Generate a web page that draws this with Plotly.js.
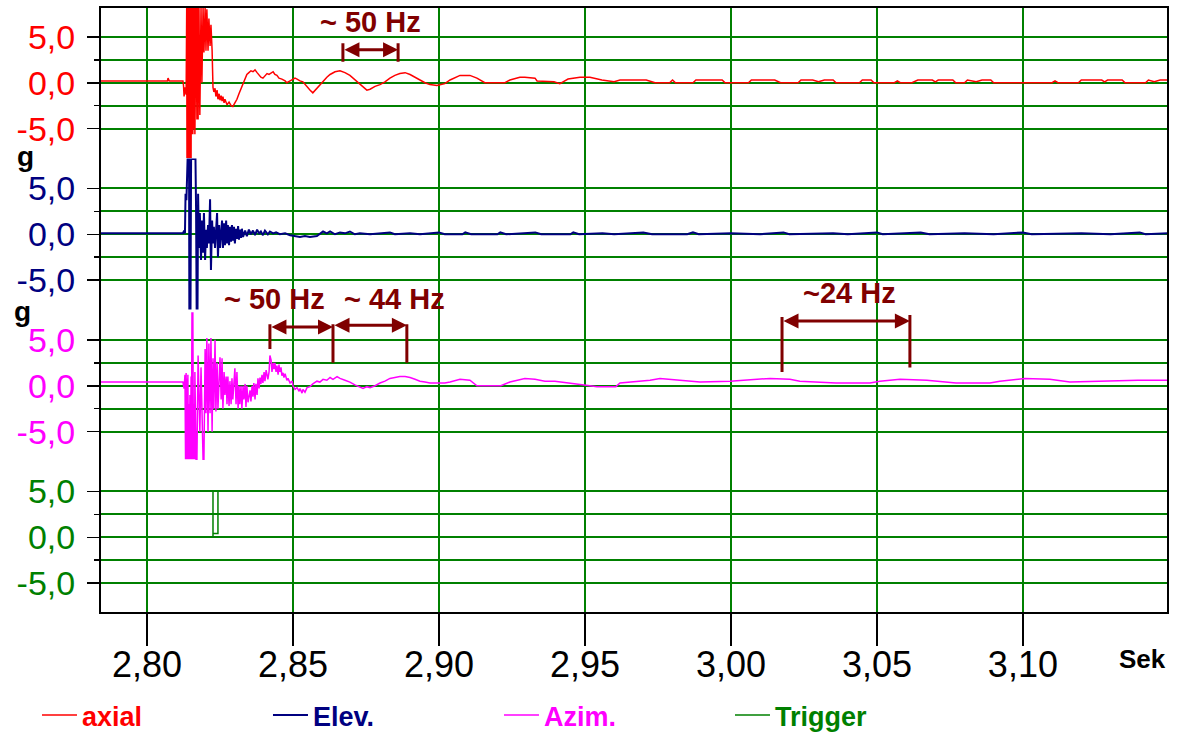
<!DOCTYPE html>
<html>
<head>
<meta charset="utf-8">
<script src="https://cdn.plot.ly/plotly-3.0.1.min.js"></script>
<style>html,body{margin:0;padding:0;background:#fff;}#chart{width:1177px;height:735px;}</style>
</head>
<body>
<div id="chart"></div>
<script>
// ---------- data ----------
const seriesNames = ['axial', 'Elev.', 'Azim.', 'Trigger'];
const seriesColors = ['#ff0000', '#000080', '#ff00ff', '#008000'];

const xTickVals = [2.80, 2.85, 2.90, 2.95, 3.00, 3.05, 3.10];
const xTickText = ['2,80', '2,85', '2,90', '2,95', '3,00', '3,05', '3,10'];
const yMajorVals = [5, 0, -5];
const yMajorText = ['5,0', '0,0', '-5,0'];
const yMinorVals = [2.5, -2.5];

const axialT = [2.7839,2.8010,2.8070,2.8072,2.8076,2.8123,2.8125,2.8127,2.8130,2.8134,2.8136,2.8137,2.8139,2.8140,2.8142,2.8144,2.8145,2.8147,2.8149,2.8151,2.8152,2.8154,2.8156,2.8157,2.8159,2.8161,2.8163,2.8164,2.8168,2.8171,2.8173,2.8175,2.8178,2.8181,2.8185,2.8188,2.8192,2.8195,2.8199,2.8202,2.8205,2.8209,2.8212,2.8216,2.8219,2.8223,2.8226,2.8229,2.8233,2.8236,2.8240,2.8243,2.8247,2.8250,2.8254,2.8257,2.8260,2.8264,2.8267,2.8274,2.8281,2.8288,2.8294,2.8301,2.8308,2.8315,2.8322,2.8329,2.8336,2.8342,2.8349,2.8356,2.8363,2.8370,2.8377,2.8384,2.8390,2.8397,2.8404,2.8411,2.8418,2.8425,2.8432,2.8438,2.8445,2.8452,2.8462,2.8473,2.8479,2.8490,2.8500,2.8507,2.8514,2.8524,2.8534,2.8541,2.8548,2.8558,2.8568,2.8582,2.8592,2.8603,2.8616,2.8627,2.8644,2.8661,2.8678,2.8695,2.8712,2.8729,2.8740,2.8753,2.8764,2.8781,2.8798,2.8815,2.8832,2.8849,2.8866,2.8884,2.8901,2.8918,2.8935,2.8952,2.8969,2.8993,2.9020,2.9038,2.9072,2.9106,2.9130,2.9147,2.9157,2.9226,2.9243,2.9277,2.9294,2.9329,2.9336,2.9394,2.9414,2.9425,2.9442,2.9483,2.9517,2.9558,2.9600,2.9620,2.9710,2.9740,2.9790,2.9800,2.9810,2.9870,2.9880,2.9970,2.9980,3.0060,3.0070,3.0150,3.0170,3.0230,3.0240,3.0280,3.0300,3.0320,3.0350,3.0360,3.0440,3.0450,3.0480,3.0490,3.0560,3.0570,3.0580,3.0620,3.0640,3.0690,3.0700,3.0710,3.0760,3.0770,3.0800,3.0810,3.0840,3.0860,3.0890,3.0900,3.1000,3.1100,3.1110,3.1120,3.1190,3.1200,3.1270,3.1280,3.1290,3.1340,3.1350,3.1420,3.1430,3.1450,3.1470,3.1497];
const axialV = [0.2,0.2,0.2,0.5,0.2,0.2,-0.3,-1.5,-0.5,-1.3,8.2,-8.2,8.2,-8.2,8.2,-8.2,8.2,-8.2,8.2,-8.2,8.2,-5.6,8.2,-5.6,8.2,-5.0,8.2,-5.6,8.2,-4.0,8.2,-4.0,8.2,-3.5,8.2,0.0,8.2,3.3,8.2,3.5,8.0,3.5,7.0,4.0,6.3,3.5,-0.5,-1.0,-0.6,-1.5,-0.8,-1.8,-1.2,-1.9,-1.4,-2.0,-1.5,-2.2,-1.8,-2.4,-2.1,-2.5,-2.6,-2.2,-1.8,-1.2,-0.6,-0.1,0.5,0.9,1.1,1.3,1.2,1.4,1.1,0.8,0.6,0.5,0.8,1.0,0.9,1.1,1.2,0.9,0.8,0.5,0.4,0.2,0.0,0.2,0.4,0.5,0.4,0.2,0.1,-0.2,-0.5,-0.8,-1.1,-0.6,-0.2,0.1,0.6,0.9,1.2,1.3,1.1,0.8,0.3,-0.2,-0.5,-0.8,-0.7,-0.4,-0.2,0.1,0.5,0.8,1.0,1.1,0.9,0.6,0.3,0.0,-0.2,-0.3,-0.1,0.3,0.8,0.8,0.5,0.2,0.0,0.0,0.3,0.6,0.6,0.5,0.2,0.1,-0.1,0.1,0.4,0.6,0.6,0.3,0.1,0.3,0.3,0.0,0.0,0.3,0.0,0.0,0.3,0.3,0.0,0.0,0.3,0.3,0.0,0.0,0.3,0.3,0.1,0.3,0.3,0.0,0.0,0.3,0.3,0.0,0.0,0.2,0.0,0.0,0.3,0.3,0.1,0.3,0.3,0.0,0.0,0.3,0.1,0.3,0.3,0.0,0.0,0.0,0.2,0.0,0.0,0.3,0.3,0.1,0.3,0.3,0.0,0.0,0.3,0.1,0.3,0.3];

const elevT = [2.7839,2.8123,2.8127,2.8130,2.8132,2.8135,2.8139,2.8144,2.8145,2.8149,2.8151,2.8166,2.8168,2.8170,2.8173,2.8175,2.8178,2.8181,2.8185,2.8188,2.8192,2.8195,2.8199,2.8202,2.8205,2.8209,2.8212,2.8216,2.8219,2.8223,2.8226,2.8229,2.8233,2.8236,2.8240,2.8243,2.8247,2.8250,2.8254,2.8257,2.8260,2.8264,2.8267,2.8271,2.8274,2.8277,2.8281,2.8284,2.8288,2.8291,2.8294,2.8298,2.8301,2.8305,2.8308,2.8312,2.8315,2.8318,2.8322,2.8325,2.8329,2.8336,2.8342,2.8349,2.8356,2.8363,2.8370,2.8377,2.8384,2.8390,2.8397,2.8404,2.8414,2.8421,2.8432,2.8442,2.8455,2.8473,2.8490,2.8507,2.8524,2.8541,2.8558,2.8582,2.8592,2.8603,2.8616,2.8627,2.8644,2.8661,2.8678,2.8695,2.8712,2.8729,2.8764,2.8798,2.8832,2.8849,2.8901,2.8935,2.8993,2.9000,2.9020,2.9080,2.9090,2.9110,2.9200,2.9210,2.9230,2.9300,2.9330,2.9350,2.9450,2.9460,2.9480,2.9560,2.9600,2.9700,2.9730,2.9850,2.9870,2.9890,3.0000,3.0100,3.0180,3.0200,3.0350,3.0400,3.0500,3.0520,3.0650,3.0680,3.0800,3.0900,3.1000,3.1030,3.1200,3.1300,3.1400,3.1420,3.1497];
const elevV = [0.1,0.1,0.4,0.1,4.4,3.7,8.2,8.2,-8.1,-8.1,8.2,8.2,2.9,-8.1,-8.1,4.4,-1.5,2.3,-2.8,1.5,-2.0,2.3,-2.8,0.5,-1.5,1.0,-1.0,3.8,-3.9,1.5,-1.0,0.8,-1.5,0.5,2.3,-2.5,1.0,-1.5,0.5,1.5,-1.5,1.2,-1.2,1.5,-1.0,1.0,-1.2,0.8,-0.8,1.0,-0.7,0.8,-1.0,0.6,-0.5,0.9,-0.6,0.5,-0.4,0.6,-0.3,0.4,-0.2,0.5,0.0,0.4,-0.1,0.5,0.1,0.3,-0.1,0.4,0.0,0.3,0.1,0.2,0.0,0.1,-0.1,-0.2,-0.3,-0.2,-0.3,-0.2,0.0,0.3,0.1,0.3,0.0,0.2,0.1,0.3,0.0,0.1,0.0,0.1,0.2,0.0,0.1,0.0,0.2,0.2,0.0,0.0,0.2,0.0,0.0,0.2,0.0,0.1,0.2,0.0,0.0,0.2,0.0,0.1,0.0,0.2,0.0,0.0,0.2,0.0,0.1,0.0,0.2,0.0,0.1,0.0,0.2,0.0,0.2,0.0,0.1,0.0,0.2,0.0,0.1,0.0,0.2,0.0,0.1];

const azimT = [2.7839,2.8123,2.8127,2.8130,2.8132,2.8134,2.8135,2.8137,2.8139,2.8140,2.8142,2.8144,2.8145,2.8147,2.8149,2.8151,2.8152,2.8154,2.8156,2.8157,2.8159,2.8161,2.8163,2.8164,2.8168,2.8171,2.8175,2.8178,2.8181,2.8185,2.8188,2.8192,2.8195,2.8199,2.8202,2.8205,2.8209,2.8212,2.8216,2.8219,2.8223,2.8226,2.8229,2.8233,2.8236,2.8240,2.8243,2.8247,2.8250,2.8254,2.8257,2.8260,2.8264,2.8267,2.8271,2.8274,2.8277,2.8281,2.8284,2.8288,2.8291,2.8294,2.8298,2.8301,2.8305,2.8308,2.8312,2.8315,2.8318,2.8322,2.8325,2.8329,2.8332,2.8336,2.8339,2.8342,2.8346,2.8353,2.8356,2.8360,2.8363,2.8366,2.8370,2.8373,2.8377,2.8380,2.8384,2.8387,2.8390,2.8394,2.8397,2.8401,2.8404,2.8408,2.8411,2.8414,2.8418,2.8421,2.8425,2.8428,2.8432,2.8435,2.8438,2.8442,2.8445,2.8449,2.8452,2.8455,2.8459,2.8462,2.8466,2.8469,2.8473,2.8479,2.8483,2.8490,2.8497,2.8500,2.8507,2.8514,2.8521,2.8524,2.8531,2.8534,2.8541,2.8548,2.8558,2.8568,2.8582,2.8592,2.8603,2.8616,2.8627,2.8637,2.8651,2.8661,2.8678,2.8695,2.8712,2.8729,2.8740,2.8753,2.8764,2.8781,2.8798,2.8815,2.8832,2.8849,2.8866,2.8884,2.8901,2.8918,2.8935,2.8952,2.8969,2.9020,2.9038,2.9072,2.9106,2.9130,2.9175,2.9212,2.9243,2.9277,2.9294,2.9329,2.9363,2.9397,2.9483,2.9517,2.9541,2.9606,2.9620,2.9723,2.9757,2.9825,2.9894,2.9997,3.0099,3.0134,3.0202,3.0236,3.0360,3.0476,3.0510,3.0579,3.0671,3.0771,3.0887,3.0921,3.1007,3.1092,3.1161,3.1264,3.1394,3.1497];
const azimV = [0.4,0.4,-0.3,1.2,-8.0,1.4,-8.0,0.8,-8.0,1.2,-8.0,-2.0,-8.0,-1.0,-8.0,1.0,-8.0,8.0,-8.0,8.0,-8.0,-2.0,-8.0,1.5,-8.0,-8.0,3.3,-1.0,-5.0,2.0,-4.0,-8.0,-8.0,4.0,-3.0,5.2,-5.0,4.6,-3.0,5.2,-5.0,3.0,-2.5,5.0,-2.8,2.5,-2.5,1.0,3.1,-1.5,3.0,-2.5,1.5,-1.0,1.0,-2.0,1.0,-2.2,0.5,-2.0,0.8,-1.5,0.5,1.9,-2.0,1.5,-2.5,0.0,-2.0,0.0,-2.5,0.0,-1.5,0.2,-2.3,0.0,-1.8,-0.5,-1.7,0.0,-1.2,0.3,-1.5,0.2,-1.0,0.8,-0.3,0.9,0.2,1.2,0.3,1.5,0.5,1.7,1.2,0.7,1.5,3.3,2.8,1.5,2.5,1.8,2.5,1.5,2.2,1.2,2.3,1.5,2.0,1.1,1.4,0.9,1.3,0.6,0.8,0.3,0.5,0.0,-0.4,-0.2,-0.6,-0.3,-0.8,-0.4,-0.7,-0.2,-0.1,0.2,0.5,0.4,0.7,0.6,0.9,0.7,1.0,0.8,0.6,0.4,0.1,-0.1,-0.3,-0.1,-0.2,0.0,0.3,0.5,0.8,0.9,1.0,1.0,0.9,0.7,0.5,0.4,0.3,0.3,0.4,0.7,0.6,0.0,0.0,0.0,0.4,0.7,0.8,0.7,0.5,0.5,0.2,0.0,-0.1,-0.1,0.3,0.6,0.8,0.6,0.4,0.5,0.7,0.8,0.7,0.5,0.3,0.3,0.5,0.7,0.6,0.3,0.3,0.5,0.8,0.7,0.4,0.5,0.6,0.6];

const trigT = [2.7839,2.8226,2.8226,2.8243,2.8243,2.8226,2.8226,3.1497];
const trigV = [0,0,5.0,5.0,0.4,0.4,0,0];

// annotation marks (time, g)
const ann50aT = [2.8671, 2.8860];
const ann50bT = [2.8421, 2.8637];
const ann44T = [2.8637, 2.8890];
const ann24T = [3.0175, 3.0613];

// ---------- chart ----------
const FONT = 'Liberation Sans, Arial, Helvetica, sans-serif';
const GRID = '#008000';
const DARK = '#800000';

const xs = [axialT, elevT, azimT, trigT];
const ys = [axialV, elevV, azimV, trigV];
const yRefs = ['y', 'y2', 'y3', 'y4'];
const widths = [1.5, 2, 1.5, 1.5];

const traces = seriesNames.map((n, i) => ({
  type: 'scatter', mode: 'lines', x: xs[i], y: ys[i], yaxis: yRefs[i], xaxis: 'x',
  name: '<span style="color:' + seriesColors[i] + '">' + n + '</span>',
  line: {color: seriesColors[i], width: widths[i]}, hoverinfo: 'skip'
}));

function yax(domain, color) {
  return {
    domain: domain, range: [-8.25, 8.25], anchor: 'x', fixedrange: true,
    tickmode: 'array', tickvals: yMajorVals, ticktext: yMajorText,
    ticks: 'outside', ticklen: 12, tickwidth: 1.5, tickcolor: '#000',
    ticklabelstandoff: 5,
    tickfont: {family: FONT, size: 34, color: color},
    showgrid: true, gridcolor: GRID, gridwidth: 2, zeroline: false, showline: false,
    minor: {tickmode: 'array', tickvals: yMinorVals, ticks: 'outside', ticklen: 5, tickwidth: 1.5,
            tickcolor: '#000', showgrid: true, gridcolor: GRID, gridwidth: 2}
  };
}

const shapes = [
  {type: 'rect', xref: 'paper', yref: 'paper', x0: 0, x1: 1, y0: 0, y1: 1, line: {color: '#000', width: 2}, layer: 'above'}
];
function vbar(t, yr, y0, y1) {
  shapes.push({type: 'line', xref: 'x', yref: yr, x0: t, x1: t, y0: y0, y1: y1, line: {color: DARK, width: 3}, layer: 'above'});
}
vbar(ann50aT[0], 'y', 4.3, 2.3); vbar(ann50aT[1], 'y', 4.3, 2.3);
vbar(ann50bT[0], 'y3', 6.7, 4.0);
vbar(ann44T[0], 'y3', 6.7, 2.5); vbar(ann44T[1], 'y3', 6.7, 2.5);
vbar(ann24T[0], 'y3', 7.5, 1.5); vbar(ann24T[1], 'y3', 7.7, 2.0);

function arrow(t0, t1, yr, y) {
  return {xref: 'x', yref: yr, axref: 'x', ayref: yr, x: t1, y: y, ax: t0, ay: y, text: '',
          showarrow: true, arrowhead: 2, arrowside: 'end+start', arrowsize: 1, arrowwidth: 3,
          arrowcolor: DARK, standoff: 0, startstandoff: 0};
}
function label(text, t, yr, y) {
  return {xref: 'x', yref: yr, x: t, y: y, text: text, showarrow: false,
          font: {family: FONT, size: 29, color: DARK, weight: 'bold'}};
}
const annotations = [
  arrow(ann50aT[0], ann50aT[1], 'y', 3.6),
  arrow(ann50bT[0], ann50bT[1], 'y3', 6.4),
  arrow(ann44T[0], ann44T[1], 'y3', 6.6),
  arrow(ann24T[0], ann24T[1], 'y3', 7.05),
  label('~ 50 Hz', 2.8764, 'y', 6.6),
  label('~ 50 Hz', 2.8438, 'y2', -7.0),
  label('~ 44 Hz', 2.8846, 'y2', -7.0),
  label('~24 Hz', 3.0407, 'y2', -6.4),
  {xref: 'paper', yref: 'paper', x: -0.08, y: 0.783, text: 'g', showarrow: false,
   font: {family: FONT, size: 28, color: '#000', weight: 'bold'}},
  {xref: 'paper', yref: 'paper', x: -0.082, y: 0.497, text: 'g', showarrow: false,
   font: {family: FONT, size: 28, color: '#000', weight: 'bold'}},
  {xref: 'paper', yref: 'paper', x: 1.0, xanchor: 'right', y: -0.104, text: 'Sek', showarrow: false,
   font: {family: FONT, size: 26, color: '#000', weight: 'bold'}}
];

const layout = {
  width: 1177, height: 735,
  margin: {l: 100, r: 9, t: 7, b: 122, autoexpand: false},
  paper_bgcolor: '#fff', plot_bgcolor: '#fff',
  showlegend: true,
  legend: {orientation: 'h', x: -0.059, xanchor: 'left', y: -0.1287, yanchor: 'top',
           entrywidth: 181, entrywidthmode: 'pixels', itemwidth: 35,
           font: {family: FONT, size: 27, color: '#000', weight: 'bold'},
           bgcolor: 'rgba(0,0,0,0)', traceorder: 'normal'},
  xaxis: {
    range: [2.7839, 3.1497], anchor: 'y4', fixedrange: true,
    tickmode: 'array', tickvals: xTickVals, ticktext: xTickText,
    ticks: 'outside', ticklen: 32, tickwidth: 1.5, tickcolor: '#000',
    ticklabelstandoff: -12,
    tickfont: {family: FONT, size: 36, color: '#000'},
    showgrid: true, gridcolor: GRID, gridwidth: 2, zeroline: false, showline: false
  },
  yaxis: yax([0.75, 1], seriesColors[0]),
  yaxis2: yax([0.5, 0.75], seriesColors[1]),
  yaxis3: yax([0.25, 0.5], seriesColors[2]),
  yaxis4: yax([0, 0.25], seriesColors[3]),
  shapes: shapes,
  annotations: annotations
};

Plotly.newPlot('chart', traces, layout, {displayModeBar: false, staticPlot: true});
</script>
</body>
</html>
